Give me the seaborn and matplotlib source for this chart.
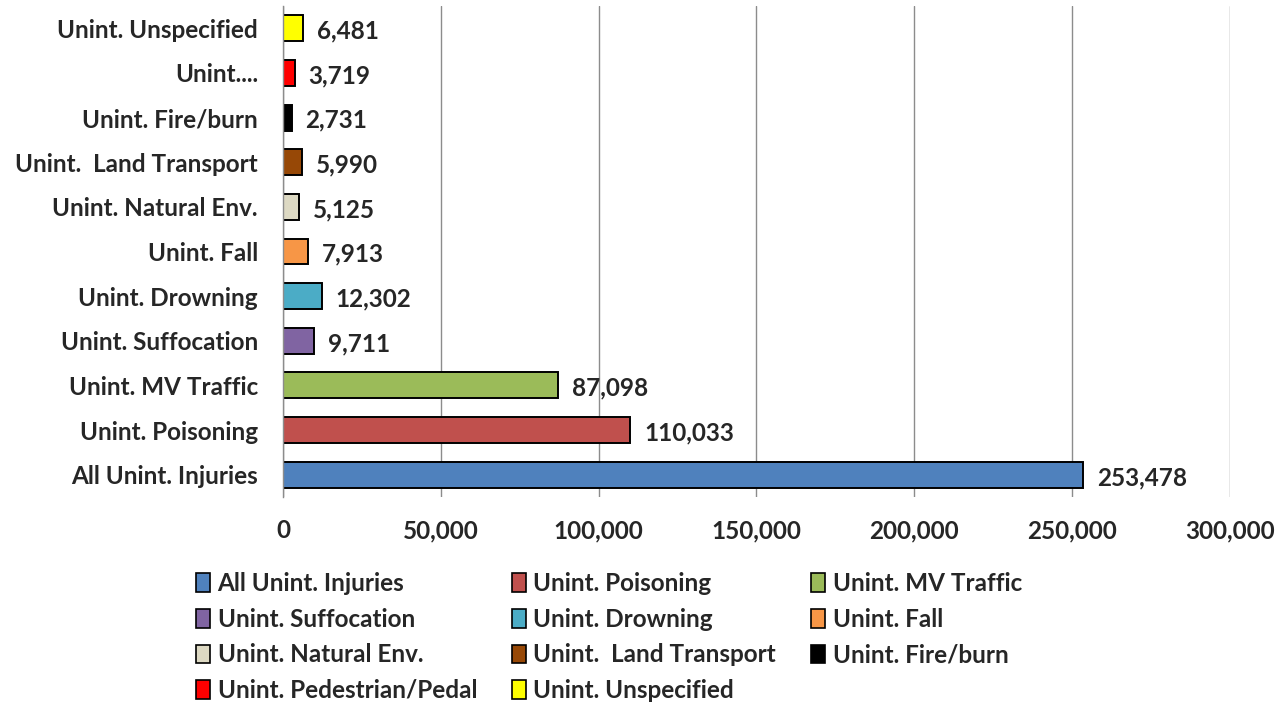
import matplotlib
matplotlib.use('Agg')
import matplotlib.pyplot as plt
from matplotlib.patches import Patch
from matplotlib.ticker import FuncFormatter
import pandas as pd
import seaborn as sns

categories = ['All Unint. Injuries', 'Unint. Poisoning', 'Unint. MV Traffic',
              'Unint. Suffocation', 'Unint. Drowning', 'Unint. Fall',
              'Unint. Natural Env.', 'Unint.  Land Transport', 'Unint. Fire/burn',
              'Unint. Pedestrian/Pedal', 'Unint. Unspecified']
axis_labels = ['All Unint. Injuries', 'Unint. Poisoning', 'Unint. MV Traffic',
               'Unint. Suffocation', 'Unint. Drowning', 'Unint. Fall',
               'Unint. Natural Env.', 'Unint.  Land Transport', 'Unint. Fire/burn',
               'Unint....', 'Unint. Unspecified']
values = [253478, 110033, 87098, 9711, 12302, 7913, 5125, 5990, 2731, 3719, 6481]
colors = ['#4F81BD', '#C0504D', '#9BBB59', '#8064A2', '#4BACC6', '#F79646',
          '#DDD9C3', '#974806', '#000000', '#FF0000', '#FFFF00']
x_ticks = [0, 50000, 100000, 150000, 200000, 250000, 300000]

df = pd.DataFrame({'category': categories, 'value': values})
order = categories[::-1]
palette = dict(zip(categories, colors))

sns.set_style('white')
plt.rcParams['font.family'] = ['Lato', 'DejaVu Sans']
plt.rcParams['font.weight'] = 'bold'
fs = 17.5

fig = plt.figure(figsize=(12.88, 7.06), dpi=100)
ax = fig.add_axes([0.2197, 0.296, 0.7352, 0.6955])

sns.barplot(data=df, x='value', y='category', hue='category', order=order,
            hue_order=categories, palette=palette, dodge=False, legend=False,
            orient='h', width=0.58, edgecolor='black', linewidth=1.4,
            saturation=1, ax=ax)

ax.set_xlim(0, 300000)
ax.set_xticks(x_ticks)
ax.xaxis.set_major_formatter(FuncFormatter(lambda v, p: '{:,.0f}'.format(v)))
ax.grid(axis='x', color='#8c8c8c', linewidth=1)
ax.set_axisbelow(True)
for s in ['top', 'right', 'bottom']:
    ax.spines[s].set_visible(False)
ax.spines['left'].set_color('#8c8c8c')
ax.spines['left'].set_linewidth(1)
ax.set_xlabel('')
ax.set_ylabel('')
ax.set_yticks(range(len(order)))
ax.set_yticklabels(axis_labels[::-1])
ax.tick_params(axis='y', length=0, pad=18, labelsize=fs)
ax.tick_params(axis='x', length=0, pad=16, labelsize=fs)
for lab in ax.get_xticklabels() + ax.get_yticklabels():
    lab.set_fontweight('bold')

for i, cat in enumerate(order):
    v = values[categories.index(cat)]
    ax.annotate('{:,}'.format(v), xy=(v, i), xytext=(10, -2),
                textcoords='offset points', va='center', ha='left',
                fontsize=fs, fontweight='bold')

handles = [Patch(facecolor=c, edgecolor='black', linewidth=1.2, label=l)
           for c, l in zip(colors, categories)]
idx = [0, 3, 6, 9, 1, 4, 7, 10, 2, 5, 8]
fig.legend([handles[i] for i in idx], [categories[i] for i in idx],
           ncol=3, loc='upper left', bbox_to_anchor=(0.1425, 0.207),
           frameon=False, prop={'size': fs, 'weight': 'bold'},
           handlelength=0.6, handleheight=0.8, handletextpad=0.3,
           columnspacing=1.42, labelspacing=0.52, borderpad=0)

fig.savefig('out.png', dpi=100)
